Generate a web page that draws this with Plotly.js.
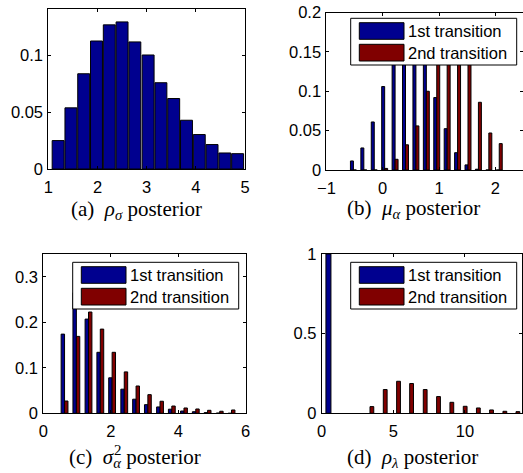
<!DOCTYPE html>
<html><head><meta charset="utf-8">
<script src="https://cdn.plot.ly/plotly-3.0.1.min.js"></script>
<style>html,body{margin:0;padding:0;overflow:hidden;background:#fff;width:523px;height:473px}</style>
</head><body><div id="chart"></div>
<script>
// ---------------- data ----------------
const seriesNames = ['1st transition', '2nd transition'];

// (a) rho_sigma posterior – single histogram
const aBins = [1.20, 1.46, 1.72, 1.98, 2.24, 2.50, 2.76, 3.03, 3.29, 3.55, 3.81, 4.07, 4.33, 4.59, 4.85];
const aVals = [0.025, 0.0538, 0.0838, 0.1126, 0.1268, 0.1294, 0.1118, 0.1003, 0.0759, 0.062, 0.0429, 0.0303, 0.0215, 0.0141, 0.0135];

// (b) mu_alpha posterior
const bBins   = [-0.52, -0.335, -0.15, 0.035, 0.22, 0.405, 0.59, 0.775, 0.96, 1.145, 1.33, 1.515, 1.70, 1.885, 2.07];
const bFirst  = [0.0115, 0.028, 0.061, 0.106, 0.145, 0.165, 0.165, 0.145, 0.092, 0.0525, 0.022, 0.0065, 0.001, 0, 0];
const bSecond = [0, 0, 0, 0.002, 0.0136, 0.032, 0.056, 0.10, 0.145, 0.17, 0.17, 0.145, 0.086, 0.047, 0.0335];

// (c) sigma^2_alpha posterior
const cBins   = [0.63, 0.98, 1.34, 1.69, 2.04, 2.40, 2.75, 3.10, 3.46, 3.81, 4.17, 4.52, 4.87, 5.23, 5.58];
const cFirst  = [0.174, 0.265, 0.207, 0.134, 0.078, 0.053, 0.031, 0.019, 0.014, 0.009, 0.005, 0.0035, 0.0015, 0.0005, 0];
const cSecond = [0.027, 0.169, 0.2225, 0.185, 0.134, 0.091, 0.060, 0.041, 0.0265, 0.016, 0.0117, 0.0095, 0.0066, 0.0045, 0.0073];

// (d) rho_lambda posterior
const dFirstBins  = [0.47];
const dFirst      = [1.0];
const dSecondBins = [3.37, 4.30, 5.23, 6.14, 7.09, 8.02, 8.95, 9.88, 10.8, 11.72, 12.65, 13.56];
const dSecond     = [0.042, 0.149, 0.201, 0.187, 0.149, 0.105, 0.069, 0.044, 0.0335, 0.021, 0.0126, 0.0105];

// tick values
const aTicksX = [1, 2, 3, 4, 5],  aTicksY = [0, 0.05, 0.1];
const bTicksX = [-1, 0, 1, 2],    bTicksY = [0, 0.05, 0.1, 0.15, 0.2];
const cTicksX = [0, 2, 4, 6],     cTicksY = [0, 0.1, 0.2, 0.3];
const dTicksX = [0, 5, 10],       dTicksY = [0, 0.5, 1];

// captions
const captions = [
  '(a)\u00a0\u00a0<i>ρ</i><sub><i>σ</i></sub> posterior',
  '(b)\u00a0\u00a0<i>μ</i><sub><i>α</i></sub> posterior',
  '(c)\u00a0\u00a0<i>σ</i><sub><i>α</i></sub> posterior',
  '(d)\u00a0\u00a0<i>ρ</i><sub><i>λ</i></sub> posterior'
];

// ---------------- styling / layout ----------------
const BLUE = 'rgb(0,0,143)', RED = 'rgb(128,0,0)';
const W = 528, H = 473;
const px = x => x / W, py = y => 1 - y / H;
const SANS = 'Liberation Sans, Arial, sans-serif';
const SERIF = 'Liberation Serif, Times New Roman, serif';
const TICK = 16.5, LEG = 16.5, CAP = 21;
const fmt = v => String(v).replace('-', '\u2212');
const spacing = arr => (arr[arr.length - 1] - arr[0]) / (arr.length - 1);

const common = {
  showline: true, linecolor: '#000', linewidth: 1, mirror: 'ticks',
  ticks: 'inside', ticklen: 3, tickwidth: 1, tickcolor: '#000',
  showgrid: false, zeroline: false, fixedrange: true,
  tickfont: {family: SANS, size: TICK, color: '#000'}
};
function xax(p0, p1, range, ticks, anchor) {
  return Object.assign({}, common, {domain: [px(p0), px(p1)], range, tickmode: 'array',
    tickvals: ticks, ticktext: ticks.map(fmt), anchor, ticklabelstandoff: 3});
}
function yax(p0, p1, range, ticks, anchor) {
  return Object.assign({}, common, {domain: [py(p1), py(p0)], range, tickmode: 'array',
    tickvals: ticks, ticktext: ticks.map(fmt), anchor, ticklabelstandoff: 1});
}

const edge = {color: '#000', width: 1};
function bar(x, y, xa, ya, color, w, off, name) {
  return {type: 'bar', x, y, xaxis: xa, yaxis: ya, width: w, offset: off, name,
    marker: {color, line: edge}, showlegend: false, hoverinfo: 'skip'};
}
const wA = spacing(aBins) * 0.93;
const wB = spacing(bBins) * (2 / 3.5) / 2;
const wC = spacing(cBins) * (2 / 3.5) / 2;
const wD = spacing(dSecondBins) * (2 / 3.5) / 2;
const wD1 = 0.35;

const data = [
  bar(aBins, aVals, 'x', 'y', BLUE, wA, -wA / 2, seriesNames[0]),
  bar(bBins, bFirst, 'x2', 'y2', BLUE, wB, -wB, seriesNames[0]),
  bar(bBins, bSecond, 'x2', 'y2', RED, wB, 0, seriesNames[1]),
  bar(cBins, cFirst, 'x3', 'y3', BLUE, wC, -wC, seriesNames[0]),
  bar(cBins, cSecond, 'x3', 'y3', RED, wC, 0, seriesNames[1]),
  bar(dFirstBins, dFirst, 'x4', 'y4', BLUE, wD1, -wD1 / 2, seriesNames[0]),
  bar(dSecondBins, dSecond, 'x4', 'y4', RED, wD, 0, seriesNames[1])
];

const shapes = [], annotations = [];
function legendBox(bx, by) {
  const P = (x0, y0, x1, y1, fill) => shapes.push({type: 'rect', xref: 'paper', yref: 'paper',
    x0: px(x0), x1: px(x1), y0: py(y1), y1: py(y0), fillcolor: fill,
    line: {color: '#000', width: 1}, layer: 'above'});
  P(bx, by, bx + 166, by + 46.7, '#fff');
  P(bx + 8.6, by + 4.4, bx + 53.3, by + 21, BLUE);
  P(bx + 8.6, by + 26, bx + 53.3, by + 42.7, RED);
  [12.7, 34.3].forEach((dy, i) => annotations.push({xref: 'paper', yref: 'paper',
    x: px(bx + 55.6), y: py(by + dy), xanchor: 'left', yanchor: 'middle', showarrow: false,
    text: seriesNames[i], font: {family: SANS, size: LEG, color: '#000'}}));
}
legendBox(350.7, 18.3);
legendBox(72.7, 262.3);
legendBox(350.7, 262.3);

const capPos = [[69, 210], [345, 209], [67, 458], [345, 458]];
captions.forEach((t, i) => annotations.push({xref: 'paper', yref: 'paper',
  x: px(capPos[i][0]), y: py(capPos[i][1]), xanchor: 'left', yanchor: 'middle',
  showarrow: false, text: t, font: {family: SERIF, size: CAP, color: '#000'}}));

// superscript 2 stacked over the alpha subscript in caption (c)
const ctx = document.createElement('canvas').getContext('2d');
ctx.font = CAP + 'px "Liberation Serif"';
let wPre = ctx.measureText('(c)\u00a0\u00a0').width;
ctx.font = 'italic ' + CAP + 'px "Liberation Serif"';
wPre += ctx.measureText('σ').width;
annotations.push({xref: 'paper', yref: 'paper', x: px(capPos[2][0] + wPre + 0.5), y: py(capPos[2][1] - 8.5),
  xanchor: 'left', yanchor: 'middle', showarrow: false, text: '2',
  font: {family: SERIF, size: Math.round(CAP * 0.7), color: '#000'}});

const layout = {
  width: W, height: H, margin: {l: 0, r: 0, t: 0, b: 0},
  paper_bgcolor: '#fff', plot_bgcolor: '#fff', barmode: 'overlay', showlegend: false,
  xaxis:  xax(48.3, 245, [1, 5], aTicksX, 'y'),
  yaxis:  yax(9.3, 169, [0, 0.1405], aTicksY, 'x'),
  xaxis2: xax(326.4, 523.45, [-1, 2.5], bTicksX, 'y2'),
  yaxis2: yax(12.5, 170, [0, 0.2], bTicksY, 'x2'),
  xaxis3: xax(43.3, 245.7, [0, 6], cTicksX, 'y3'),
  yaxis3: yax(254, 413.3, [0, 0.35], cTicksY, 'x3'),
  xaxis4: xax(321.7, 522.3, [0, 14], dTicksX, 'y4'),
  yaxis4: yax(254, 413.3, [0, 1], dTicksY, 'x4'),
  shapes, annotations
};
Plotly.newPlot('chart', data, layout, {displayModeBar: false, staticPlot: true});
</script></body></html>
